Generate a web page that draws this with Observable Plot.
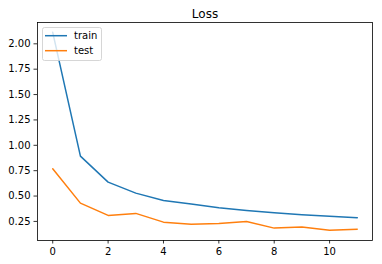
<!DOCTYPE html>
<html>
<head>
<meta charset="utf-8">
<script src="https://cdn.jsdelivr.net/npm/d3@7"></script>
<script src="https://cdn.jsdelivr.net/npm/@observablehq/plot@0.6"></script>
<style>
  body { margin: 0; background: white; }
  #wrap { position: relative; width: 382px; height: 264px; font-family: "DejaVu Sans", sans-serif; }
  #legend { position: absolute; left: 42px; top: 27px; }
</style>
</head>
<body>
<div id="wrap"></div>
<script>
const epochs = [0, 1, 2, 3, 4, 5, 6, 7, 8, 9, 10, 11];
const trainLoss = [2.113, 0.893, 0.637, 0.529, 0.457, 0.422, 0.385, 0.358, 0.335, 0.316, 0.302, 0.286];
const testLoss = [0.769, 0.430, 0.309, 0.329, 0.243, 0.223, 0.230, 0.250, 0.184, 0.194, 0.164, 0.174];
const seriesNames = ["train", "test"];
const seriesColors = ["#1f77b4", "#ff7f0e"];
const xTicks = [0, 2, 4, 6, 8, 10];
const yTicks = [0.25, 0.50, 0.75, 1.00, 1.25, 1.50, 1.75, 2.00];
const titleText = "Loss";

const rows = [];
[trainLoss, testLoss].forEach((vals, s) => {
  vals.forEach((v, i) => rows.push({epoch: epochs[i], loss: v, series: seriesNames[s]}));
});

const chart = Plot.plot({
  width: 382,
  height: 264,
  marginLeft: 37,
  marginTop: 22,
  marginRight: 10,
  marginBottom: 24,
  style: {fontFamily: "DejaVu Sans", fontSize: "10px", color: "black", background: "white", overflow: "visible"},
  x: {domain: [-0.55, 11.55]},
  y: {domain: [0.062, 2.21]},
  color: {domain: seriesNames, range: seriesColors},
  marks: [
    Plot.line(rows, {x: "epoch", y: "loss", z: "series", stroke: "series", strokeWidth: 1.5}),
    Plot.frame({stroke: "black", strokeWidth: 0.8}),
    Plot.axisX({ticks: xTicks, tickSize: 3.5, tickPadding: 3.5, tickFormat: d => String(d), label: null, strokeWidth: 0.8}),
    Plot.axisY({ticks: yTicks, tickSize: 3.5, tickPadding: 3.5, tickFormat: d3.format(".2f"), label: null, strokeWidth: 0.8}),
    Plot.text([titleText], {text: d => d, frameAnchor: "top", lineAnchor: "bottom", dy: -5, fontSize: 12})
  ]
});
const wrap = document.getElementById("wrap");
wrap.appendChild(chart);

// legend overlay (upper left, matplotlib style)
const ns = "http://www.w3.org/2000/svg";
const leg = document.createElementNS(ns, "svg");
leg.setAttribute("id", "legend");
leg.setAttribute("width", 60);
leg.setAttribute("height", 34);
const box = document.createElementNS(ns, "rect");
box.setAttribute("x", 0.5); box.setAttribute("y", 0.5);
box.setAttribute("width", 59); box.setAttribute("height", 33);
box.setAttribute("rx", 2);
box.setAttribute("fill", "rgba(255,255,255,0.8)");
box.setAttribute("stroke", "#cccccc");
box.setAttribute("stroke-width", 0.8);
leg.appendChild(box);
seriesNames.forEach((name, i) => {
  const y = 8.7 + i * 15;
  const ln = document.createElementNS(ns, "line");
  ln.setAttribute("x1", 3); ln.setAttribute("x2", 25);
  ln.setAttribute("y1", y); ln.setAttribute("y2", y);
  ln.setAttribute("stroke", seriesColors[i]);
  ln.setAttribute("stroke-width", 1.5);
  leg.appendChild(ln);
  const t = document.createElementNS(ns, "text");
  t.setAttribute("x", 32); t.setAttribute("y", y + 3.6);
  t.setAttribute("font-size", 10);
  t.setAttribute("font-family", "DejaVu Sans");
  t.textContent = name;
  leg.appendChild(t);
});
wrap.appendChild(leg);
</script>
</body>
</html>
